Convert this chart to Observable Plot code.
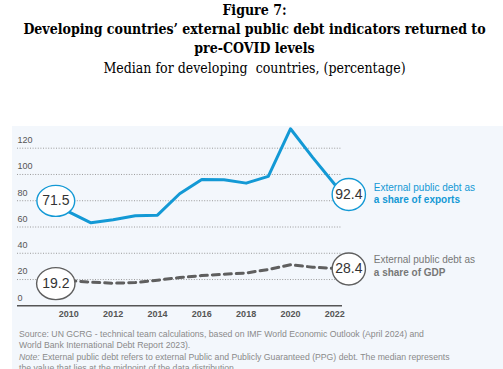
<!DOCTYPE html>
<html>
<head>
<meta charset="utf-8">
<script src="https://cdn.jsdelivr.net/npm/d3@7"></script>
<script src="https://cdn.jsdelivr.net/npm/@observablehq/plot@0.6"></script>
<style>
  html, body { margin: 0; padding: 0; background: #fff; }
  body { width: 503px; height: 369px; position: relative; overflow: hidden; }
  #head { position: absolute; left: 0; top: 0; width: 503px; padding-left: 6px; box-sizing: border-box; text-align: center; font-family: "DejaVu Serif", serif; color: #000; }
  .t { font-weight: bold; font-size: 14px; line-height: 19px; font-stretch: condensed; white-space: nowrap; }
  .s { font-size: 14px; line-height: 20px; font-stretch: condensed; white-space: nowrap; }
  #panel { position: absolute; left: 12px; top: 126px; width: 491px; height: 243px; background: #f3f7fc; }
  #chart { position: absolute; left: 0; top: 126px; }
  #notes { position: absolute; left: 19px; top: 329px; font-family: "Liberation Sans", Arial, sans-serif; font-size: 8.7px; line-height: 11px; color: #8a8a8a; white-space: nowrap; }
  #notes p { margin: 0 0 1px 0; }
</style>
</head>
<body>
<div id="head">
  <div class="t" style="margin-top:1px">Figure 7:</div>
  <div class="t">Developing countries’ external public debt indicators returned to</div>
  <div class="t">pre-COVID levels</div>
  <div class="s">Median for developing&nbsp; countries, (percentage)</div>
</div>
<div id="panel"></div>
<div id="chart"></div>
<div id="notes">
  <p>Source: UN GCRG - technical team calculations, based on IMF World Economic Outlook (April 2024) and<br>World Bank International Debt Report 2023).</p>
  <p><i>Note:</i> External public debt refers to external Public and Publicly Guaranteed (PPG) debt. The median represents<br>the value that lies at the midpoint of the data distribution.</p>
</div>
<script>
const years = [2010, 2011, 2012, 2013, 2014, 2015, 2016, 2017, 2018, 2019, 2020, 2021, 2022];
const exportsShare = [71.5, 63.2, 65.5, 68.5, 69.0, 85.3, 96.2, 96.0, 93.4, 98.5, 134.8, 113.0, 92.4];
const gdpShare = [19.2, 18.0, 17.2, 17.7, 19.5, 21.5, 23.0, 24.0, 25.0, 27.6, 31.2, 29.4, 28.4];
const yTicks = [0, 20, 40, 60, 80, 100, 120];
const xTicks = [2010, 2012, 2014, 2016, 2018, 2020, 2022];
const exportsLabel = ["External public debt as", "a share of exports"];
const gdpLabel = ["External public debt as", "a share of GDP"];

const blue = "#1399d5";
const gray = "#5f5f5f";
const sans = "Liberation Sans, Arial, sans-serif";

const exportsData = years.map((y, i) => ({year: y, value: exportsShare[i]}));
const gdpData = years.map((y, i) => ({year: y, value: gdpShare[i]}));

// ellipse symbol for the value bubbles
function ellipseSymbol(ratio) {
  return {
    draw(context, size) {
      const r = Math.sqrt(size / Math.PI);
      const rx = r * ratio, ry = r;
      const k = 0.5523;
      context.moveTo(rx, 0);
      context.bezierCurveTo(rx, ry * k, rx * k, ry, 0, ry);
      context.bezierCurveTo(-rx * k, ry, -rx, ry * k, -rx, 0);
      context.bezierCurveTo(-rx, -ry * k, -rx * k, -ry, 0, -ry);
      context.bezierCurveTo(rx * k, -ry, rx, -ry * k, rx, 0);
      context.closePath();
    }
  };
}

function bubble(d, color, dx, dy, ratio, r) {
  return [
    Plot.dot([d], {x: "year", y: "value", dx, dy, r, symbol: ellipseSymbol(ratio), fill: "white", stroke: color, strokeWidth: 1.4}),
    Plot.text([d], {x: "year", y: "value", dx, dy, text: d => d.value.toFixed(1), fontSize: 14, fill: "#333", fontFamily: sans})
  ];
}

function sideLabel(d, lines, color, dy1, dy2) {
  return [
    Plot.text([d], {x: "year", y: "value", dx: 39, dy: dy1, text: () => lines[0], textAnchor: "start", fill: color, fontSize: 10, fontFamily: sans}),
    Plot.text([d], {x: "year", y: "value", dx: 39, dy: dy2, text: () => lines[1], textAnchor: "start", fill: color, fontSize: 10, fontWeight: "bold", fontFamily: sans})
  ];
}

const first = arr => arr[0];
const last = arr => arr[arr.length - 1];

const chart = Plot.plot({
  width: 503,
  height: 200,
  marginLeft: 17,
  marginRight: 161,
  marginTop: 21.7,
  marginBottom: 20.7,
  style: {background: "transparent", fontFamily: sans},
  x: {domain: [2010, 2022], range: [68.3, 334.3], axis: null},
  y: {domain: [0, 120], axis: null},
  marks: [
    Plot.ruleY(yTicks.filter(v => v > 0), {stroke: "#9a9a9a", strokeWidth: 1, strokeDasharray: "1,1.6"}),
    Plot.text(yTicks, {y: d => d, text: d => String(d), frameAnchor: "left", textAnchor: "start", dy: -8, fontSize: 9, fill: "#555"}),
    Plot.ruleY([0], {stroke: "#555", strokeWidth: 1.5}),
    Plot.text(xTicks, {x: d => d, text: d => String(d), frameAnchor: "bottom", dy: 11, fontSize: 9, fontWeight: "bold", fill: "#555"}),
    Plot.line(gdpData, {x: "year", y: "value", stroke: gray, strokeWidth: 3, strokeDasharray: "7,5", curve: "linear"}),
    Plot.line(exportsData, {x: "year", y: "value", stroke: blue, strokeWidth: 3, curve: "linear"}),
    ...bubble(first(exportsData), blue, -13, -11, 1.22, 15.5),
    ...bubble(last(exportsData), blue, 14, 10, 1.04, 16),
    ...bubble(first(gdpData), gray, -13, 3, 1.2, 16),
    ...bubble(last(gdpData), gray, 14, 0.5, 1.04, 16),
    ...sideLabel(last(exportsData), exportsLabel, blue, 3.5, 15.5),
    ...sideLabel(last(gdpData), gdpLabel, "#777", -8.5, 4.5)
  ]
});
document.getElementById("chart").appendChild(chart);
</script>
</body>
</html>
